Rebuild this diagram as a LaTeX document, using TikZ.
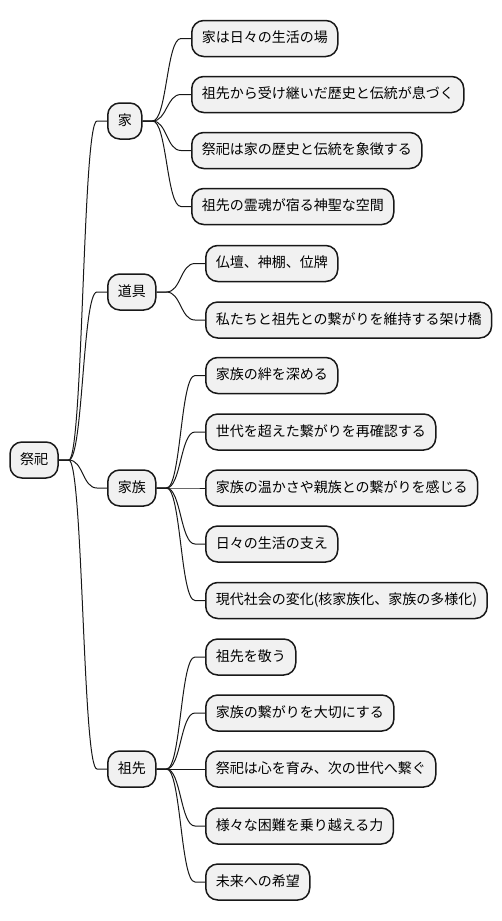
\documentclass[tikz,border=0pt]{standalone}
\usepackage{fontspec}
\setmainfont{Noto Sans CJK JP}
\usetikzlibrary{calc}
\definecolor{boxfill}{HTML}{F1F1F1}
\definecolor{boxline}{HTML}{181818}
\tikzset{every picture/.style={line width=1pt}}
\tikzset{
  topic/.style={draw=boxline, fill=boxfill, line width=1.5pt, rounded corners=12pt,
    minimum height=36pt, inner xsep=10pt, inner ysep=0pt, text height=11pt, text depth=3pt,
    font=\fontsize{14pt}{16pt}\selectfont},
  branch/.style={to path={-- ++(10,0) coordinate (bend) .. controls ($(bend)+(14.5,0)$) and ($(\tikztotarget)+(-24.5,0)$) .. ($(\tikztotarget)+(-10,0)$) -- (\tikztotarget)}}
}

\begin{document}
\begin{tikzpicture}[x=1pt,y=1pt,yscale=-1,xscale=1]
    \useasboundingbox (0,0) rectangle (502,921);

    % Text Node
    \node [topic] (saishi) at (34,460) {祭祀};
    % Text Node
    \node [topic, anchor=west] (ie) at (107,121) {家};
    % Text Node
    \node [topic, anchor=west] (dougu) at (107,292) {道具};
    % Text Node
    \node [topic, anchor=west] (kazoku) at (107,488) {家族};
    % Text Node
    \node [topic, anchor=west] (sosen) at (107,769) {祖先};

    % Text Node
    \node [topic, anchor=west] (ieA) at (191,38.5) {家は日々の生活の場};
    \node [topic, anchor=west] (ieB) at (191,94.5) {祖先から受け継いだ歴史と伝統が息づく};
    \node [topic, anchor=west] (ieC) at (191,150.5) {祭祀は家の歴史と伝統を象徴する};
    \node [topic, anchor=west] (ieD) at (191,206.5) {祖先の霊魂が宿る神聖な空間};

    % Text Node
    \node [topic, anchor=west] (douguA) at (205,263.5) {仏壇、神棚、位牌};
    \node [topic, anchor=west] (douguB) at (205,320) {私たちと祖先との繋がりを維持する架け橋};

    % Text Node
    \node [topic, anchor=west] (kazokuA) at (205,375.5) {家族の絆を深める};
    \node [topic, anchor=west] (kazokuB) at (205,432) {世代を超えた繋がりを再確認する};
    \node [topic, anchor=west] (kazokuC) at (205,488) {家族の温かさや親族との繋がりを感じる};
    \node [topic, anchor=west] (kazokuD) at (205,544) {日々の生活の支え};
    \node [topic, anchor=west] (kazokuE) at (205,600.5) {現代社会の変化(核家族化、家族の多様化)};

    % Text Node
    \node [topic, anchor=west] (sosenA) at (205,657) {祖先を敬う};
    \node [topic, anchor=west] (sosenB) at (205,713) {家族の繋がりを大切にする};
    \node [topic, anchor=west] (sosenC) at (205,769) {祭祀は心を育み、次の世代へ繋ぐ};
    \node [topic, anchor=west] (sosenD) at (205,826) {様々な困難を乗り越える力};
    \node [topic, anchor=west] (sosenE) at (205,882) {未来への希望};

    %Curves
    \foreach \kid in {ie,dougu,kazoku,sosen}
      \draw [boxline] (saishi.east) to[branch] (\kid.west);
    \foreach \kid in {ieA,ieB,ieC,ieD}
      \draw [boxline] (ie.east) to[branch] (\kid.west);
    \foreach \kid in {douguA,douguB}
      \draw [boxline] (dougu.east) to[branch] (\kid.west);
    \foreach \kid in {kazokuA,kazokuB,kazokuC,kazokuD,kazokuE}
      \draw [boxline] (kazoku.east) to[branch] (\kid.west);
    \foreach \kid in {sosenA,sosenB,sosenC,sosenD,sosenE}
      \draw [boxline] (sosen.east) to[branch] (\kid.west);
\end{tikzpicture}
\end{document}
